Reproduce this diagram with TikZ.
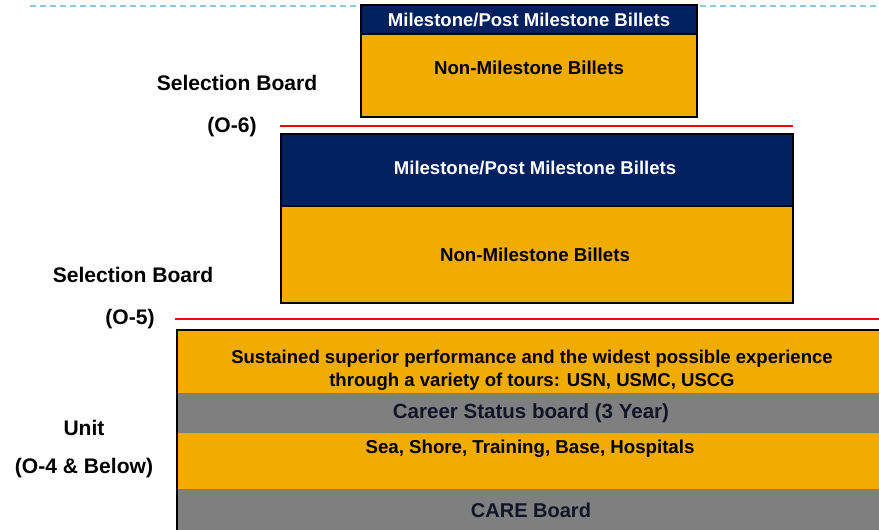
\documentclass[tikz,border=0pt]{standalone}
\usepackage{fontspec}
\setmainfont{Liberation Sans}

\definecolor{navy}{HTML}{002060}
\definecolor{gold}{HTML}{F0AC00}
\definecolor{slate}{HTML}{7F7F7F}
\definecolor{skyline}{HTML}{8CC8DC}
\definecolor{ink}{HTML}{141428}

\tikzset{
  boardline/.style={red, line width=1.1pt},
  billet/.style={draw=black, line width=1.1pt},
  bandtitle/.style={white, font=\fontsize{13.9}{16}\selectfont\bfseries},
  bandtext/.style={black, font=\fontsize{14}{17}\selectfont\bfseries},
  sidetext/.style={black, font=\fontsize{15.8}{19}\selectfont\bfseries},
}

\begin{document}
\begin{tikzpicture}[x=0.75pt, y=-0.75pt]
\clip (0,0) rectangle (879,529);
\draw[skyline, line width=1.4pt, dash pattern=on 4.5pt off 3pt] (30,6) -- (879,6);
% O-6 billets
\draw[billet, fill=gold] (361,34) rectangle (697,117);
\draw[billet, fill=navy] (361,5) rectangle (697,34);
\node[bandtitle] (msix) at (529,20) {Milestone/Post Milestone Billets};
\node[bandtext] (nsix) at (529,68) {Non-Milestone Billets};
\coordinate (sixl) at (280,126);
\coordinate (sixr) at (793,126);
\draw[boardline] (sixl) -- (sixr);
\node[sidetext] (selsix) at (237,83) {Selection Board};
\node[sidetext] (osix) at (232,127) {(O-6)};
% O-5 billets
\draw[billet, fill=gold] (281,206) rectangle (793,303);
\draw[billet, fill=navy] (281,134) rectangle (793,206);
\node[bandtitle] (mfive) at (535,168) {Milestone/Post Milestone Billets};
\node[bandtext] (nfive) at (535,255) {Non-Milestone Billets};
\coordinate (fivel) at (175,319);
\coordinate (fiver) at (879,319);
\draw[boardline] (fivel) -- (fiver);
\node[sidetext] (selfive) at (133,275) {Selection Board};
\node[sidetext] (ofive) at (130,319) {(O-5)};
% unit level
\fill[gold] (177,330) rectangle (885,393);
\fill[slate] (177,393) rectangle (885,433);
\fill[gold] (177,433) rectangle (885,489);
\fill[slate] (177,489) rectangle (885,535);
\draw[billet] (177,535) -- (177,330) -- (885,330);
\node[bandtext, font=\fontsize{13.9}{17.2}\selectfont\bfseries, align=center] (sustain) at (532,370)
  {Sustained superior performance and the widest possible experience\\through a variety of tours: USN, USMC, USCG};
\node[bandtext, ink, font=\fontsize{15.4}{18}\selectfont\bfseries] (status) at (531,413) {Career Status board (3 Year)};
\node[bandtext] (tours) at (530,449) {Sea,\ Shore, Training, Base, Hospitals};
\node[bandtext, ink, font=\fontsize{15}{18}\selectfont\bfseries] (care) at (531,510) {CARE Board};
\node[sidetext] (unit) at (84,428) {Unit};
\node[sidetext] (belowfour) at (84,468) {(O-4 \& Below)};
\end{tikzpicture}
\end{document}
